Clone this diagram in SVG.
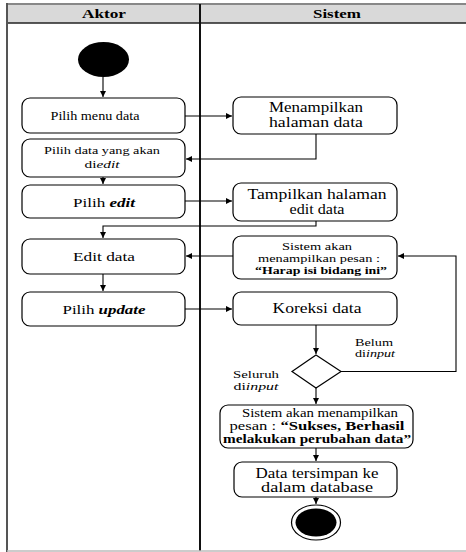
<svg xmlns="http://www.w3.org/2000/svg" width="466" height="552" viewBox="0 0 466 552">
<style>
text{font-family:'Liberation Serif','Times New Roman',serif;fill:#000;text-anchor:middle}
.h{font-size:13px;font-weight:bold}
.a{font-size:13.5px}
.m{font-size:14px}
.s{font-size:11px}
.l{font-size:10.5px}
.k{font-size:11.5px}
.box{fill:#fff;stroke:#000;stroke-width:1.2}
.c{fill:none;stroke:#000;stroke-width:1.1}
</style>
<defs>
<marker id="ar" markerWidth="7" markerHeight="7" refX="6" refY="3.5" orient="auto" markerUnits="userSpaceOnUse">
<path d="M0,0.5 L6,3.5 L0,6.5 Z" fill="#000"/>
</marker>
</defs>
<g font-family="'Liberation Serif', 'Times New Roman', serif">
<g id="frame">
<rect x="7" y="4" width="459" height="19" fill="#d9d9d9"/>
<line x1="7" y1="4" x2="466" y2="4" stroke="#888" stroke-width="2"/>
<line x1="7" y1="23" x2="466" y2="23" stroke="#222" stroke-width="1.5"/>
<line x1="7" y1="3" x2="7" y2="552" stroke="#555" stroke-width="2"/>
<line x1="200" y1="4" x2="200" y2="551" stroke="#111" stroke-width="2"/>
<line x1="7" y1="551" x2="466" y2="551" stroke="#bbb" stroke-width="1.5"/>
<text class="h" x="104" y="18" textLength="44" lengthAdjust="spacingAndGlyphs">Aktor</text>
<text class="h" x="337" y="18" textLength="48" lengthAdjust="spacingAndGlyphs">Sistem</text>
</g>
<g id="connectors">
<path class="c" d="M103,77 V97" marker-end="url(#ar)"/>
<path class="c" d="M185,116 H232" marker-end="url(#ar)"/>
<path class="c" d="M316,134 V159 H186" marker-end="url(#ar)"/>
<path class="c" d="M103,177 V184" marker-end="url(#ar)"/>
<path class="c" d="M185,201 H232" marker-end="url(#ar)"/>
<path class="c" d="M316,221 V226 H103 V238" marker-end="url(#ar)"/>
<path class="c" d="M233,256 H186" marker-end="url(#ar)"/>
<path class="c" d="M103,274 V291" marker-end="url(#ar)"/>
<path class="c" d="M185,309 H232" marker-end="url(#ar)"/>
<path class="c" d="M316,325 V354" marker-end="url(#ar)"/>
<path class="c" d="M341,371.5 H456 V256 H398" marker-end="url(#ar)"/>
<path class="c" d="M316,388 V404" marker-end="url(#ar)"/>
<path class="c" d="M316,448 V461" marker-end="url(#ar)"/>
<path class="c" d="M316,497 V504" marker-end="url(#ar)"/>
</g>
<g id="start"><ellipse cx="103.5" cy="59.5" rx="25.5" ry="17.5" fill="#000"/></g>
<g id="n1"><rect class="box" x="22" y="98" width="163" height="35" rx="8"/>
<text class="a" x="95" y="120" textLength="89" lengthAdjust="spacingAndGlyphs">Pilih menu data</text></g>
<g id="n2"><rect class="box" x="233" y="97" width="164" height="37" rx="8"/>
<text class="m" x="316" y="112" textLength="94" lengthAdjust="spacingAndGlyphs">Menampilkan</text>
<text class="m" x="316" y="127" textLength="94" lengthAdjust="spacingAndGlyphs">halaman data</text></g>
<g id="n3"><rect class="box" x="22" y="139" width="163" height="38" rx="8"/>
<text class="s" x="102" y="154" textLength="116" lengthAdjust="spacingAndGlyphs">Pilih data yang akan</text>
<text class="s" x="102" y="168" textLength="35" lengthAdjust="spacingAndGlyphs">di<tspan font-style="italic">edit</tspan></text></g>
<g id="n4"><rect class="box" x="22" y="185" width="163" height="33" rx="8"/>
<text class="a" x="104" y="207" textLength="62" lengthAdjust="spacingAndGlyphs">Pilih <tspan font-weight="bold" font-style="italic">edit</tspan></text></g>
<g id="n5"><rect class="box" x="233" y="183" width="164" height="38" rx="8"/>
<text class="m" x="317" y="199" textLength="139" lengthAdjust="spacingAndGlyphs">Tampilkan halaman</text>
<text class="m" x="317" y="214" textLength="55" lengthAdjust="spacingAndGlyphs">edit data</text></g>
<g id="n6"><rect class="box" x="22" y="239" width="163" height="35" rx="8"/>
<text class="a" x="104" y="261" textLength="62" lengthAdjust="spacingAndGlyphs">Edit data</text></g>
<g id="n7"><rect class="box" x="233" y="236" width="164" height="43" rx="8"/>
<text class="s" x="317" y="250" textLength="70" lengthAdjust="spacingAndGlyphs">Sistem akan</text>
<text class="s" x="319" y="262" textLength="122" lengthAdjust="spacingAndGlyphs">menampilkan pesan :</text>
<text class="s" x="321" y="274" font-weight="bold" textLength="132" lengthAdjust="spacingAndGlyphs">“Harap isi bidang ini”</text></g>
<g id="n8"><rect class="box" x="22" y="292" width="163" height="34" rx="8"/>
<text class="a" x="104" y="314" textLength="83" lengthAdjust="spacingAndGlyphs">Pilih <tspan font-weight="bold" font-style="italic">update</tspan></text></g>
<g id="n9"><rect class="box" x="233" y="292" width="164" height="33" rx="8"/>
<text class="m" x="317" y="313" textLength="89" lengthAdjust="spacingAndGlyphs">Koreksi data</text></g>
<g id="decision"><path d="M316,355 L341,371.5 L316,388 L292,371.5 Z" fill="#fff" stroke="#000" stroke-width="1.2"/>
<text class="l" x="374" y="346" textLength="38" lengthAdjust="spacingAndGlyphs">Belum</text>
<text class="l" x="375" y="357" textLength="40" lengthAdjust="spacingAndGlyphs">di<tspan font-style="italic">input</tspan></text>
<text class="l" x="256" y="378" textLength="46" lengthAdjust="spacingAndGlyphs">Seluruh</text>
<text class="l" x="256" y="390" textLength="45" lengthAdjust="spacingAndGlyphs">di<tspan font-style="italic">input</tspan></text></g>
<g id="n10"><rect class="box" x="220" y="405" width="193" height="43" rx="8"/>
<text class="k" x="320" y="417" textLength="156" lengthAdjust="spacingAndGlyphs">Sistem akan menampilkan</text>
<text class="k" x="317" y="430" textLength="175" lengthAdjust="spacingAndGlyphs">pesan : <tspan font-weight="bold">“Sukses, Berhasil</tspan></text>
<text class="k" x="317" y="443" font-weight="bold" textLength="188" lengthAdjust="spacingAndGlyphs">melakukan perubahan data”</text></g>
<g id="n11"><rect class="box" x="234" y="462" width="163" height="35" rx="8"/>
<text class="m" x="317" y="478" textLength="123" lengthAdjust="spacingAndGlyphs">Data tersimpan ke</text>
<text class="m" x="317" y="492" textLength="112" lengthAdjust="spacingAndGlyphs">dalam database</text></g>
<g id="end"><ellipse cx="316" cy="522.5" rx="24.5" ry="17.5" fill="#fff" stroke="#000" stroke-width="1.2"/>
<ellipse cx="316" cy="522.5" rx="20.5" ry="14" fill="#000"/></g>
</g>
</svg>
